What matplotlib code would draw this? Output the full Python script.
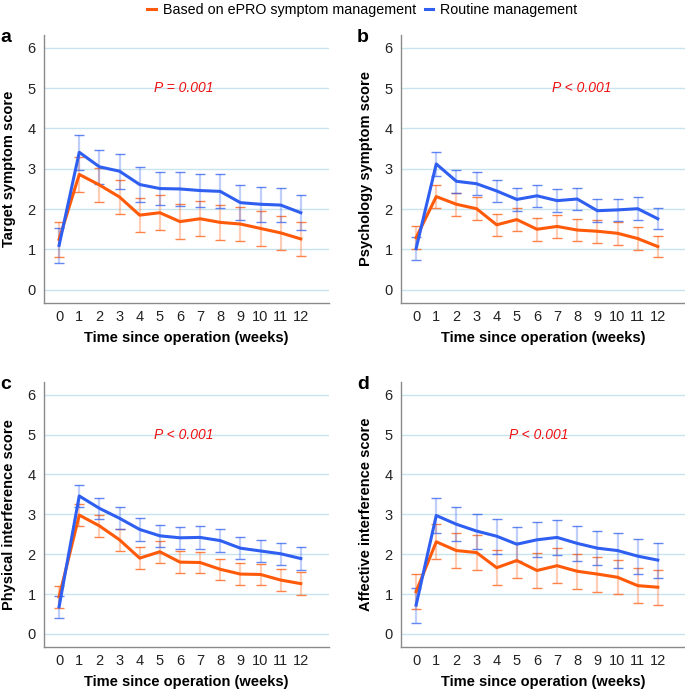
import matplotlib.pyplot as plt
import numpy as np

plt.rcParams['font.family'] = ['Liberation Sans', 'DejaVu Sans']

weeks = list(range(0, 13))

# a - target symptom
a_epro = [1.25, 2.86, 2.60, 2.30, 1.85, 1.91, 1.69, 1.76, 1.67, 1.63, 1.52, 1.41, 1.26]
a_epro_err = [0.43, 0.43, 0.43, 0.43, 0.43, 0.43, 0.43, 0.43, 0.43, 0.42, 0.43, 0.42, 0.43]
a_routine = [1.10, 3.41, 3.05, 2.94, 2.61, 2.51, 2.50, 2.46, 2.44, 2.16, 2.12, 2.10, 1.91]
a_routine_err = [0.43, 0.43, 0.42, 0.43, 0.43, 0.42, 0.42, 0.42, 0.42, 0.43, 0.43, 0.43, 0.43]

# b - psychology symptom
b_epro = [1.29, 2.31, 2.12, 2.01, 1.61, 1.74, 1.50, 1.57, 1.48, 1.45, 1.40, 1.27, 1.07]
b_epro_err = [0.28, 0.29, 0.28, 0.28, 0.28, 0.28, 0.28, 0.28, 0.28, 0.28, 0.28, 0.28, 0.26]
b_routine = [1.02, 3.12, 2.69, 2.63, 2.45, 2.24, 2.33, 2.21, 2.25, 1.96, 1.98, 2.01, 1.76]
b_routine_err = [0.28, 0.30, 0.28, 0.28, 0.28, 0.29, 0.28, 0.28, 0.28, 0.28, 0.28, 0.29, 0.26]

# c - physical interference
c_epro = [0.93, 2.98, 2.71, 2.36, 1.90, 2.06, 1.80, 1.79, 1.62, 1.50, 1.49, 1.35, 1.26]
c_epro_err = [0.27, 0.27, 0.27, 0.28, 0.28, 0.28, 0.27, 0.27, 0.27, 0.28, 0.27, 0.28, 0.28]
c_routine = [0.68, 3.46, 3.15, 2.90, 2.62, 2.46, 2.41, 2.42, 2.34, 2.15, 2.08, 2.01, 1.89]
c_routine_err = [0.28, 0.28, 0.27, 0.28, 0.28, 0.28, 0.27, 0.29, 0.28, 0.27, 0.28, 0.28, 0.28]

# d - affective interference
d_epro = [1.06, 2.31, 2.09, 2.04, 1.66, 1.84, 1.59, 1.71, 1.57, 1.50, 1.42, 1.21, 1.17]
d_epro_err = [0.44, 0.44, 0.44, 0.44, 0.44, 0.45, 0.45, 0.44, 0.44, 0.44, 0.43, 0.43, 0.44]
d_routine = [0.72, 2.97, 2.75, 2.58, 2.45, 2.25, 2.36, 2.42, 2.27, 2.15, 2.09, 1.95, 1.85]
d_routine_err = [0.44, 0.45, 0.43, 0.44, 0.44, 0.43, 0.44, 0.44, 0.44, 0.43, 0.43, 0.44, 0.44]

panel_letters = ['a', 'b', 'c', 'd']
ylabels = ['Target symptom score', 'Psychology symptom score',
           'Physical interference score', 'Affective interference score']
p_texts = ['P = 0.001', 'P < 0.001', 'P < 0.001', 'P < 0.001']
p_xpos = [6.2, 8.2, 6.2, 6.1]

orange = '#ff5a0a'
blue = '#2f5ff0'

fig = plt.figure(figsize=(6.85, 6.93), dpi=100)
W, H = 685, 693
boxes = [(44, 35, 285, 268), (401, 35, 285, 268),
         (44, 382, 285, 265), (401, 382, 285, 265)]

data = [(a_epro, a_epro_err, a_routine, a_routine_err),
        (b_epro, b_epro_err, b_routine, b_routine_err),
        (c_epro, c_epro_err, c_routine, c_routine_err),
        (d_epro, d_epro_err, d_routine, d_routine_err)]

handles = []
for i, (x0, y0, w, h) in enumerate(boxes):
    ax = fig.add_axes([x0 / W, 1 - (y0 + h) / H, w / W, h / H])
    epro, epro_err, rout, rout_err = data[i]
    for vals, errs, col in [(epro, epro_err, orange), (rout, rout_err, blue)]:
        eb = ax.errorbar(weeks, vals, yerr=errs, color=col, linewidth=2.2,
                         elinewidth=1.6, capsize=3.5, capthick=1.0, zorder=3)
        for cl in eb[1]:
            cl.set_alpha(0.75)
        for bl in eb[2]:
            bl.set_alpha(0.3)
        if i == 0:
            handles.append(eb[0])
    ax.set_xlim(-0.75, 13.4)
    ax.set_ylim(-0.33, 6.32)
    ax.set_yticks(range(0, 7))
    ax.set_xticks(weeks)
    ax.grid(axis='y', color='#c8e4ee', linewidth=1.0)
    ax.set_axisbelow(True)
    for s in ['top', 'right']:
        ax.spines[s].set_visible(False)
    for s in ['left', 'bottom']:
        ax.spines[s].set_color('#8a8a8a')
        ax.spines[s].set_linewidth(1.0)
    ax.tick_params(axis='y', length=0, labelsize=10.5, pad=6, colors='#222222')
    ax.tick_params(axis='x', length=0, labelsize=10.5, pad=5, colors='#222222')
    ax.set_ylabel(ylabels[i], fontsize=10.5, fontweight='bold', labelpad=8)
    ax.set_xlabel('Time since operation (weeks)', fontsize=10.5,
                  fontweight='bold', labelpad=5)
    ax.text(p_xpos[i], 5.0, p_texts[i], color='#ee1111', style='italic',
            fontsize=10, ha='center', va='center')
    fig.text((x0 - 44) / W, 1 - (y0 - 6) / H, panel_letters[i],
             fontsize=14, fontweight='bold', va='top', ha='left')

fig.legend(handles, ['Based on ePRO symptom management', 'Routine management'],
           loc='upper center', bbox_to_anchor=(0.529, 1.014), ncol=2,
           frameon=False, fontsize=10.3, handlelength=0.6, handletextpad=0.5,
           columnspacing=0.6)

plt.savefig('out.png', dpi=100)
